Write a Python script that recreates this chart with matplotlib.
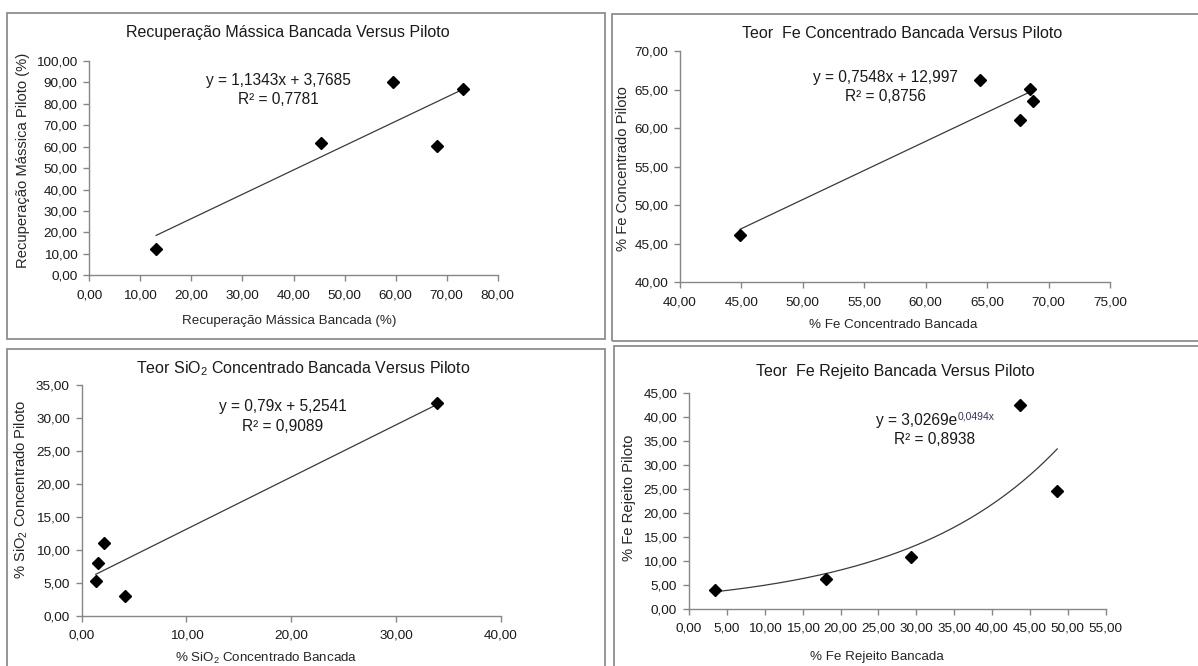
import numpy as np
import matplotlib
matplotlib.use("Agg")
import matplotlib.pyplot as plt
from matplotlib.patches import Rectangle
from matplotlib.ticker import FuncFormatter, MultipleLocator

plt.rcParams['font.family'] = ['Liberation Sans', 'DejaVu Sans']
plt.rcParams['mathtext.fontset'] = 'custom'
plt.rcParams['mathtext.rm'] = 'Liberation Sans'
plt.rcParams['mathtext.default'] = 'regular'

# dados
rec_bancada = [13.1, 45.3, 59.4, 68.2, 73.3]
rec_piloto = [12.3, 61.9, 90.0, 60.5, 86.9]
rec_coef = [1.1343, 3.7685]

fe_conc_bancada = [44.9, 64.4, 68.5, 68.7, 67.7]
fe_conc_piloto = [46.1, 66.2, 65.1, 63.5, 61.0]
fe_conc_coef = [0.7548, 12.997]

sio2_bancada = [1.34, 1.59, 2.13, 4.17, 33.95]
sio2_piloto = [5.26, 8.03, 11.0, 2.98, 32.3]
sio2_coef = [0.79, 5.2541]

fe_rej_bancada = [3.43, 18.04, 29.35, 43.7, 48.6]
fe_rej_piloto = [4.03, 6.26, 10.9, 42.6, 24.7]
fe_rej_coef = [3.0269, 0.0494]

W, H = 1198, 666
fig = plt.figure(figsize=(W / 100, H / 100), dpi=100)

def px_axes(x0, x1, y0, y1):
    # caixa em pixels (topo para baixo) -> fracao da figura
    return fig.add_axes([x0 / W, 1 - y1 / H, (x1 - x0) / W, (y1 - y0) / H])

def moldura(x0, x1, y0, y1):
    fig.patches.append(Rectangle((x0 / W, 1 - y1 / H), (x1 - x0) / W, (y1 - y0) / H,
                                 transform=fig.transFigure, fill=False,
                                 edgecolor='#8e8e8e', lw=1.3))

virgula = FuncFormatter(lambda v, p: f"{v:.2f}".replace('.', ','))
txt = '#1a1a1a'

def estilo(ax, xlim, ylim, xstep, ystep):
    ax.set_xlim(*xlim)
    ax.set_ylim(*ylim)
    ax.xaxis.set_major_locator(MultipleLocator(xstep))
    ax.yaxis.set_major_locator(MultipleLocator(ystep))
    ax.xaxis.set_major_formatter(virgula)
    ax.yaxis.set_major_formatter(virgula)
    for s in ['top', 'right']:
        ax.spines[s].set_visible(False)
    for s in ['left', 'bottom']:
        ax.spines[s].set_color('#868686')
        ax.spines[s].set_linewidth(1.0)
    ax.tick_params(direction='out', length=4, width=1, color='#868686',
                   labelsize=9.7, labelcolor=txt)
    ax.tick_params(axis='x', pad=6)
    ax.tick_params(axis='y', pad=4.5)
    ax.set_facecolor('none')
    for lab in ax.get_xticklabels() + ax.get_yticklabels():
        lab.set_clip_on(False)

def pontos(ax, x, y):
    ax.plot(x, y, linestyle='none', marker='D', ms=6, color='black', clip_on=False)

def textos(ax, titulo, tpos, xl, xlpos, yl, ylpos):
    ax.text(tpos[0], tpos[1], titulo, transform=ax.transAxes, ha='center', va='center',
            fontsize=11.5, color=txt)
    ax.text(xlpos[0], xlpos[1], xl, transform=ax.transAxes, ha='center', va='center',
            fontsize=9.6, color='#262626')
    ax.text(ylpos[0], ylpos[1], yl, transform=ax.transAxes, ha='center', va='center',
            rotation=90, fontsize=10.6, color='#262626')

# painel 1
moldura(7, 604.7, 13.3, 339.3)
ax1 = px_axes(89.3, 497.7, 61, 275.3)
estilo(ax1, (0, 80), (0, 100), 10, 10)
xs = np.array([min(rec_bancada), max(rec_bancada)])
ax1.plot(xs, rec_coef[0] * xs + rec_coef[1], color='#3a3a3a', lw=0.9)
pontos(ax1, rec_bancada, rec_piloto)
textos(ax1, 'Recuperação Mássica Bancada Versus Piloto', (0.4865, 1.131),
       'Recuperação Mássica Bancada (%)', (0.4885, -0.213),
       'Recuperação Mássica Piloto (%)', (-0.163, 0.535))
ax1.text(0.462, 0.911, 'y = 1,1343x + 3,7685', transform=ax1.transAxes, ha='center',
         va='center', fontsize=11.2, color=txt)
ax1.text(0.462, 0.821, 'R² = 0,7781', transform=ax1.transAxes, ha='center',
         va='center', fontsize=11.2, color=txt)

# painel 2
moldura(612, 1205, 14, 340.7)
ax2 = px_axes(680, 1110, 51, 282.3)
estilo(ax2, (40, 75), (40, 70), 5, 5)
xs = np.array([min(fe_conc_bancada), max(fe_conc_bancada)])
ax2.plot(xs, fe_conc_coef[0] * xs + fe_conc_coef[1], color='#3a3a3a', lw=0.9)
pontos(ax2, fe_conc_bancada, fe_conc_piloto)
textos(ax2, 'Teor  Fe Concentrado Bancada Versus Piloto', (0.516, 1.0765),
       '% Fe Concentrado Bancada', (0.495, -0.185),
       '% Fe Concentrado Piloto', (-0.133, 0.493))
ax2.text(0.478, 0.886, 'y = 0,7548x + 12,997', transform=ax2.transAxes, ha='center',
         va='center', fontsize=11.2, color=txt)
ax2.text(0.478, 0.802, 'R² = 0,8756', transform=ax2.transAxes, ha='center',
         va='center', fontsize=11.2, color=txt)

# painel 3
moldura(7, 605.3, 349.3, 700)
ax3 = px_axes(81.7, 500.7, 385, 616)
estilo(ax3, (0, 40), (0, 35), 10, 5)
xs = np.array([min(sio2_bancada), max(sio2_bancada)])
ax3.plot(xs, sio2_coef[0] * xs + sio2_coef[1], color='#3a3a3a', lw=0.9)
pontos(ax3, sio2_bancada, sio2_piloto)
textos(ax3, 'Teor SiO$_2$ Concentrado Bancada Versus Piloto', (0.5277, 1.072),
       '% SiO$_2$ Concentrado Bancada', (0.4415, -0.183),
       '% SiO$_2$ Concentrado Piloto', (-0.143, 0.547))
ax3.text(0.479, 0.906, 'y = 0,79x + 5,2541', transform=ax3.transAxes, ha='center',
         va='center', fontsize=11.2, color=txt)
ax3.text(0.479, 0.819, 'R² = 0,9089', transform=ax3.transAxes, ha='center',
         va='center', fontsize=11.2, color=txt)

# painel 4
moldura(614, 1205, 346, 700)
ax4 = px_axes(689, 1105.7, 393.3, 609)
estilo(ax4, (0, 55), (0, 45), 5, 5)
xs = np.linspace(min(fe_rej_bancada), max(fe_rej_bancada), 200)
ax4.plot(xs, fe_rej_coef[0] * np.exp(fe_rej_coef[1] * xs), color='#3a3a3a', lw=0.9)
pontos(ax4, fe_rej_bancada, fe_rej_piloto)
textos(ax4, 'Teor  Fe Rejeito Bancada Versus Piloto', (0.4963, 1.103),
       '% Fe Rejeito Bancada', (0.452, -0.221),
       '% Fe Rejeito Piloto', (-0.143, 0.517))
eq = ax4.text(0.449, 0.876, 'y = 3,0269e', transform=ax4.transAxes, ha='left',
              va='center', fontsize=11.2, color=txt)
ax4.annotate('0,0494x', xy=(1, 1), xycoords=eq, xytext=(0.5, 0.5),
             textcoords='offset points', ha='left', va='top', fontsize=7.5, color='#3a2f5a')
ax4.text(0.589, 0.787, 'R² = 0,8938', transform=ax4.transAxes, ha='center',
         va='center', fontsize=11.2, color=txt)

fig.savefig('out.png', dpi=100)
